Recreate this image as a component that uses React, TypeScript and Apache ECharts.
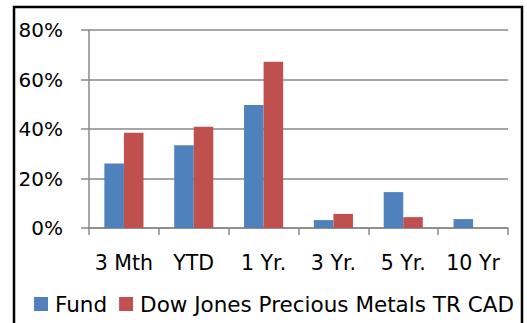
import React, { useEffect, useRef } from "react";
import * as echarts from "echarts";

const categories = ["3 Mth", "YTD", "1 Yr.", "3 Yr.", "5 Yr.", "10 Yr"];
const fundValues = [26.1, 33.4, 49.7, 3.2, 14.5, 3.6];
const indexValues: (number | null)[] = [38.5, 40.9, 67.2, 5.7, 4.4, null];
const seriesNames = ["Fund", "Dow Jones Precious Metals TR CAD"];
const yTicks = { min: 0, max: 80, interval: 20 };

const FONT = "DejaVu Sans";

export default function App() {
  const ref = useRef<HTMLDivElement>(null);
  useEffect(() => {
    if (!ref.current) return;
    const chart = echarts.init(ref.current, undefined, { renderer: "svg" });
    chart.setOption({
      animation: false,
      backgroundColor: "#fff",
      grid: { left: 89, right: 19, top: 30, bottom: 95, containLabel: false },
      graphic: [
        {
          type: "rect",
          shape: { x: 14, y: 7, width: 508, height: 340 },
          style: { fill: "none", stroke: "#000", lineWidth: 2.5 },
          silent: true,
        },
      ],
      legend: {
        left: 29,
        top: 288,
        itemWidth: 14,
        itemHeight: 14,
        itemGap: 12,
        icon: "rect",
        textStyle: { fontFamily: FONT, fontSize: 21.5, color: "#000", padding: [0, 0, 0, 2] },
        data: seriesNames,
      },
      xAxis: {
        type: "category",
        data: categories,
        axisLine: { lineStyle: { color: "#888", width: 1.5 } },
        axisTick: { show: true, length: 7, lineStyle: { color: "#888", width: 1.5 } },
        axisLabel: { fontFamily: FONT, fontSize: 20.5, color: "#000", margin: 24, interval: 0 },
      },
      yAxis: {
        type: "value",
        min: yTicks.min,
        max: yTicks.max,
        interval: yTicks.interval,
        axisLine: { show: true, lineStyle: { color: "#888", width: 1.5 } },
        axisTick: { show: true, length: 8, lineStyle: { color: "#888", width: 1.5 } },
        splitLine: { lineStyle: { color: "#888", width: 1.5 } },
        axisLabel: {
          fontFamily: FONT,
          fontSize: 20,
          color: "#000",
          margin: 26,
          formatter: (v: number) => `${v}%`,
        },
      },
      series: [
        {
          name: seriesNames[0],
          type: "bar",
          data: fundValues,
          barGap: "0%",
          barCategoryGap: "44%",
          itemStyle: { color: "#4F81BD" },
        },
        {
          name: seriesNames[1],
          type: "bar",
          data: indexValues,
          barGap: "0%",
          barCategoryGap: "44%",
          itemStyle: { color: "#C0504D" },
        },
      ],
    });
    return () => chart.dispose();
  }, []);
  return (
    <div
      ref={ref}
      style={{ position: "fixed", left: 0, top: 0, width: 527, height: 323 }}
    />
  );
}
